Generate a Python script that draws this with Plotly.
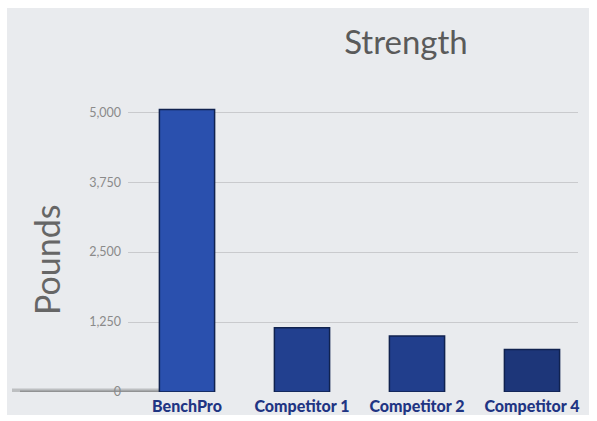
import plotly.graph_objects as go

categories = ["BenchPro", "Competitor 1", "Competitor 2", "Competitor 4"]
pounds = [5050, 1150, 1000, 760]
tick_vals = [0, 1250, 2500, 3750, 5000]
tick_text = ["0", "1,250", "2,500", "3,750", "5,000"]

bar_colors = ["#2a50ae", "#22408f", "#213e8c", "#1d3679"]

fig = go.Figure()
fig.add_trace(go.Bar(
    x=categories, y=pounds,
    width=0.48,
    marker=dict(color=bar_colors, line=dict(color="#10224f", width=1.5)),
    hoverinfo="x+y",
))

W, H = 597, 421
ml, mr, mt, mb = 128, 19, 101, 29
pw, ph = W - ml - mr, H - mt - mb

fig.update_layout(
    width=W, height=H,
    margin=dict(l=ml, r=mr, t=mt, b=mb),
    paper_bgcolor="#ffffff",
    plot_bgcolor="rgba(0,0,0,0)",
    showlegend=False,
    title=dict(text="Strength", x=0.68, xanchor="center", y=0.9, yanchor="middle",
               font=dict(family="Lato, Open Sans, sans-serif", size=33, color="#5a5a5a")),
    font=dict(family="Lato, Open Sans, sans-serif"),
    xaxis=dict(
        automargin=False,
        range=[-0.513, 3.4],
        showgrid=False, showline=False, zeroline=False, ticks="",
        tickfont=dict(size=16, color="#1f3583", family="Lato, sans-serif", weight=900),
        ticklabelstandoff=3,
    ),
    yaxis=dict(
        automargin=False,
        range=[0, 5200],
        tickvals=tick_vals, ticktext=tick_text,
        showgrid=True, gridcolor="#c9cacd", gridwidth=1.2,
        zeroline=False, showline=False, ticks="",
        tickfont=dict(size=12.5, color="#8a8a8a"),
        ticklabelstandoff=6,
    ),
    annotations=[
        dict(text="Pounds", textangle=-90, showarrow=False,
             xref="paper", yref="paper",
             x=(46 - ml) / pw, y=(392 - 260) / ph,
             xanchor="center", yanchor="middle",
             font=dict(size=34, color="#666666")),
    ],
    shapes=[
        # grey slide background inside white border
        dict(type="rect", xref="paper", yref="paper", layer="below",
             x0=(7 - ml) / pw, x1=(W - 8 - ml) / pw,
             y0=-(mb - 6) / ph, y1=1 + (mt - 8) / ph,
             fillcolor="#e9ebee", line=dict(width=0)),
        # floor shadow at zero
        dict(type="line", xref="paper", yref="y", layer="below",
             x0=(12 - ml) / pw, x1=0.08, y0=0, y1=0,
             line=dict(color="rgba(110,110,110,0.35)", width=7)),
        dict(type="line", xref="paper", yref="y", layer="below",
             x0=(20 - ml) / pw, x1=0.08, y0=0, y1=0,
             line=dict(color="rgba(90,90,90,0.45)", width=3)),
    ],
)

fig.write_html("out.html", config={"displayModeBar": False},
               post_script="document.body.style.margin='0';")
